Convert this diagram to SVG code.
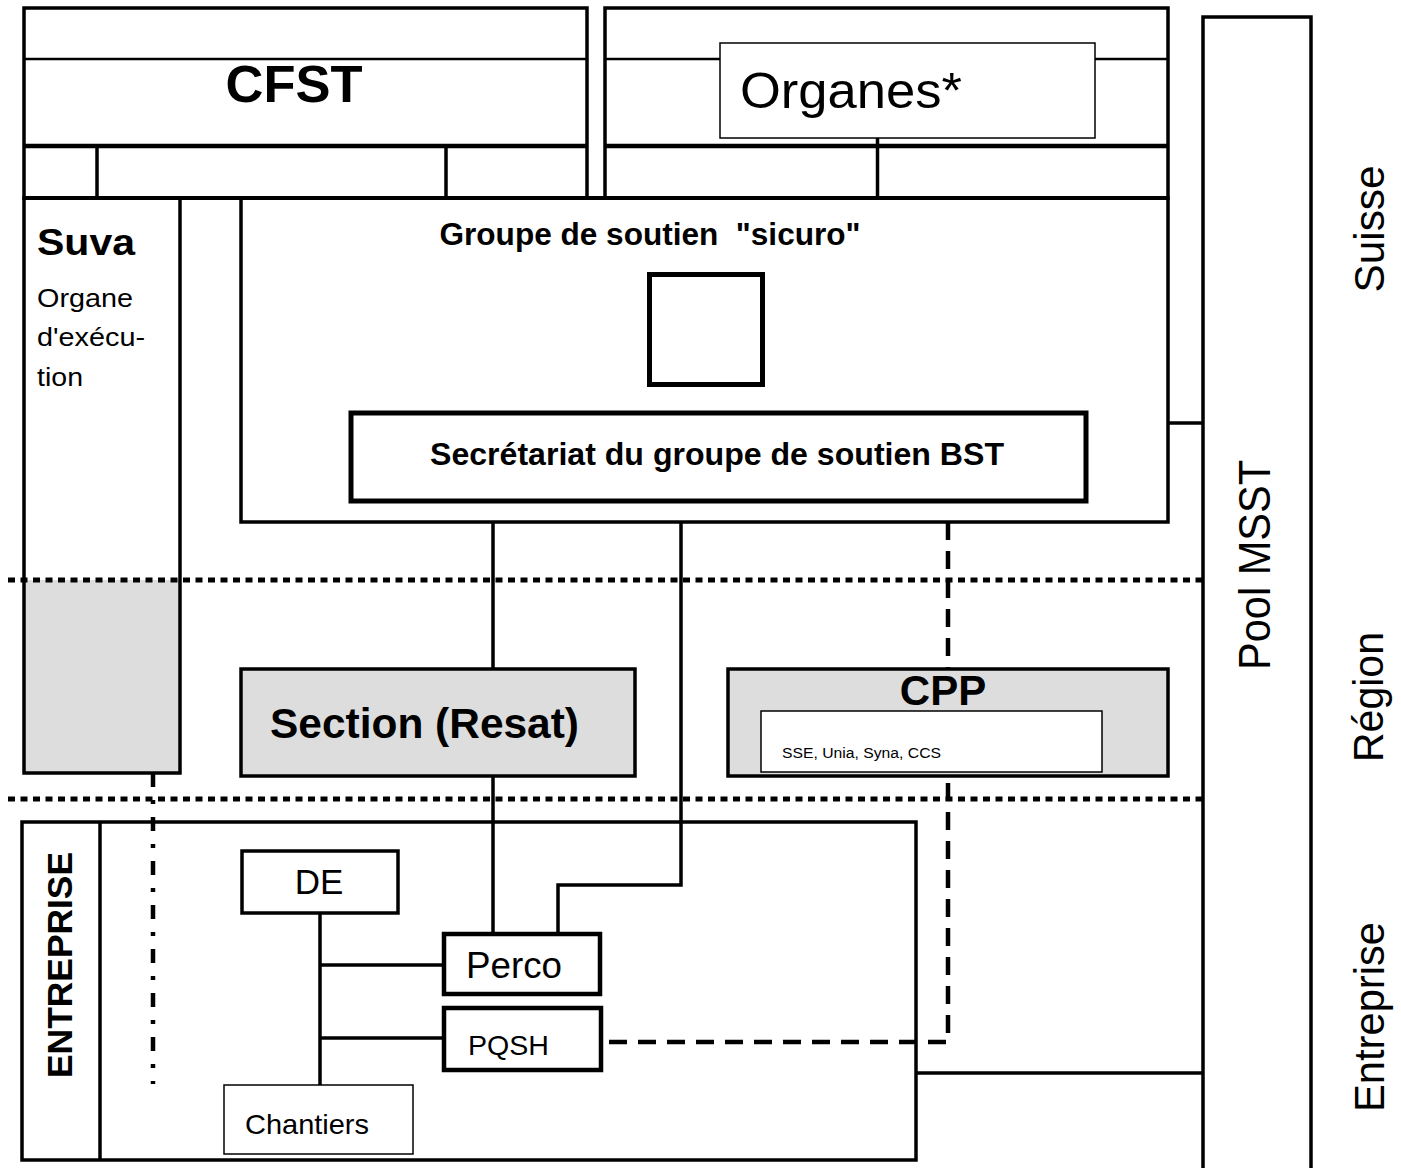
<svg xmlns="http://www.w3.org/2000/svg" width="1401" height="1168" viewBox="0 0 1401 1168">
<style>
text{font-family:"Liberation Sans",Arial,sans-serif;fill:#000}
.b{font-weight:bold}
.box{fill:none;stroke:#000;stroke-width:3.5}
.wbox{fill:#fff;stroke:#000;stroke-width:3.5}
.thick{fill:#fff;stroke:#000;stroke-width:4.5}
.thin{fill:#fff;stroke:#000;stroke-width:1.5}
.grey{fill:#dddddd;stroke:#000;stroke-width:3.5}
.ln{fill:none;stroke:#000;stroke-width:3.5}
.dash{fill:none;stroke:#000;stroke-width:4.5;stroke-dasharray:18 11}
.dashdot{fill:none;stroke:#000;stroke-width:4.5;stroke-dasharray:14 13 4 13}
.dot{fill:none;stroke:#000;stroke-width:5;stroke-dasharray:7 5.5}
</style>
<rect width="1401" height="1168" fill="#fff"/>

<g id="connectors">
  <path class="ln" d="M1168 423 H1203"/>
  <path class="ln" d="M916 1073 H1203"/>
  <path class="ln" d="M493 522 V934"/>
  <path class="ln" d="M681 522 V885 H558 V934"/>
  <path class="ln" d="M320 913 V1085"/>
  <path class="ln" d="M320 965 H444"/>
  <path class="ln" d="M320 1038 H444"/>
  <path class="dash" d="M948 522 V1042 H601"/>
  <path class="dashdot" d="M153 773 V1084"/>
</g>

<g id="cfst">
  <rect class="box" x="24" y="8" width="563" height="190"/>
  <path class="ln" d="M24 59 H587" style="stroke-width:2.5"/>
  <path class="ln" d="M24 146 H587" style="stroke-width:4.5"/>
  <path class="ln" d="M97 146 V198 M446 146 V198"/>
  <text class="b" x="294" y="102" font-size="52" text-anchor="middle" textLength="137" lengthAdjust="spacingAndGlyphs">CFST</text>
</g>

<g id="organes">
  <rect class="box" x="605" y="8" width="563" height="190"/>
  <path class="ln" d="M605 59 H1168" style="stroke-width:2.5"/>
  <path class="ln" d="M605 146 H1168" style="stroke-width:4.5"/>
  <path class="ln" d="M877.5 138 V198"/>
  <rect class="thin" x="720" y="43" width="375" height="95"/>
  <text x="740" y="108" font-size="50" textLength="222" lengthAdjust="spacingAndGlyphs">Organes*</text>
</g>

<path class="ln" d="M23 198 H1168" style="stroke-width:4"/>

<g id="suva">
  <rect x="24" y="580" width="156" height="193" fill="#dddddd"/>
  <rect class="box" x="24" y="198" width="156" height="575"/>
  <text class="b" x="37" y="255" font-size="36" textLength="98" lengthAdjust="spacingAndGlyphs">Suva</text>
  <text x="37" y="307" font-size="25" textLength="96" lengthAdjust="spacingAndGlyphs">Organe</text>
  <text x="37" y="346" font-size="25" textLength="108" lengthAdjust="spacingAndGlyphs">d'exécu-</text>
  <text x="37" y="386" font-size="25" textLength="46" lengthAdjust="spacingAndGlyphs">tion</text>
</g>

<g id="groupe-soutien">
  <rect class="box" x="241" y="198" width="927" height="324"/>
  <text class="b" x="650" y="245" font-size="31" text-anchor="middle" textLength="421" lengthAdjust="spacingAndGlyphs" style="white-space:pre">Groupe de soutien  "sicuro"</text>
  <rect class="box" x="649.5" y="274.5" width="113" height="110" style="stroke-width:5"/>
</g>

<g id="secretariat">
  <rect class="box" x="351" y="413" width="735" height="88" style="stroke-width:5"/>
  <text class="b" x="717" y="465" font-size="32" text-anchor="middle" textLength="574" lengthAdjust="spacingAndGlyphs">Secrétariat du groupe de soutien BST</text>
</g>

<g id="pool-msst">
  <rect class="wbox" x="1203" y="17" width="108" height="1170"/>
  <text transform="translate(1270,565) rotate(-90)" font-size="44" text-anchor="middle" textLength="210" lengthAdjust="spacingAndGlyphs">Pool MSST</text>
</g>

<g id="separators">
  <path class="dot" d="M8 580 H1203"/>
  <path class="dot" d="M8 799 H1203"/>
</g>

<g id="section-resat">
  <rect class="grey" x="241" y="669" width="394" height="107"/>
  <text class="b" x="270" y="738" font-size="42" textLength="309" lengthAdjust="spacingAndGlyphs">Section (Resat)</text>
</g>

<g id="cpp">
  <rect class="grey" x="728" y="669" width="440" height="107"/>
  <text class="b" x="943" y="705" font-size="42" text-anchor="middle">CPP</text>
  <rect class="thin" x="761" y="711" width="341" height="61"/>
  <text x="782" y="758" font-size="15.5" textLength="159" lengthAdjust="spacingAndGlyphs">SSE, Unia, Syna, CCS</text>
</g>

<g id="entreprise">
  <rect class="box" x="22" y="822" width="894" height="338"/>
  <path class="ln" d="M100 822 V1160"/>
  <text class="b" transform="translate(72,965) rotate(-90)" font-size="35" text-anchor="middle" textLength="226" lengthAdjust="spacingAndGlyphs">ENTREPRISE</text>
</g>

<g id="de">
  <rect class="wbox" x="242" y="851" width="156" height="62"/>
  <text x="319" y="894" font-size="35" text-anchor="middle">DE</text>
</g>

<g id="perco">
  <rect class="thick" x="444" y="934" width="156" height="60"/>
  <text x="466" y="978" font-size="36" textLength="96" lengthAdjust="spacingAndGlyphs">Perco</text>
</g>

<g id="pqsh">
  <rect class="thick" x="444" y="1008" width="157" height="62"/>
  <text x="468" y="1055" font-size="28" textLength="81" lengthAdjust="spacingAndGlyphs">PQSH</text>
</g>

<g id="chantiers">
  <rect class="thin" x="224" y="1085" width="189" height="69"/>
  <text x="245" y="1134" font-size="28" textLength="124" lengthAdjust="spacingAndGlyphs">Chantiers</text>
</g>

<g id="level-labels">
  <text transform="translate(1384,229) rotate(-90)" font-size="42" text-anchor="middle" textLength="127" lengthAdjust="spacingAndGlyphs">Suisse</text>
  <text transform="translate(1383,697) rotate(-90)" font-size="42" text-anchor="middle" textLength="130" lengthAdjust="spacingAndGlyphs">Région</text>
  <text transform="translate(1384,1017) rotate(-90)" font-size="42" text-anchor="middle" textLength="190" lengthAdjust="spacingAndGlyphs">Entreprise</text>
</g>
</svg>
